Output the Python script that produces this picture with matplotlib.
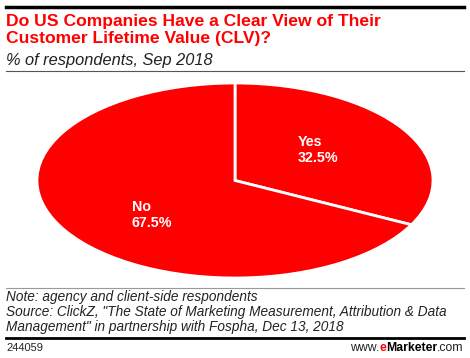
import matplotlib
matplotlib.use("Agg")
import matplotlib.pyplot as plt
from matplotlib.lines import Line2D

# data
labels = ["Yes", "No"]
values = [32.5, 67.5]

title = "Do US Companies Have a Clear View of Their\nCustomer Lifetime Value (CLV)?"
subtitle = "% of respondents, Sep 2018"
note = ("Note: agency and client-side respondents\n"
        "Source: ClickZ, \"The State of Marketing Measurement, Attribution & Data\n"
        "Management\" in partnership with Fospha, Dec 13, 2018")
chart_id = "244059"

RED = "#ff0000"
W, H = 470, 358

fig = plt.figure(figsize=(W / 100, H / 100), dpi=100)
plt.rcParams['font.family'] = ['Liberation Sans', 'DejaVu Sans']


def fx(px):
    return px / W


def fy(py):
    return 1 - py / H


# pie axes stretched to the ellipse box
ax = fig.add_axes([fx(37), fy(278), fx(396), 195 / H])
wedges, _ = ax.pie(values, startangle=90, counterclock=False, colors=[RED, RED],
                   wedgeprops=dict(edgecolor="white", linewidth=2))
ax.set_aspect("auto")
ax.set_xlim(-1, 1)
ax.set_ylim(-1, 1)
for w in wedges:
    w.set_clip_on(False)

# slice labels
fig.text(fx(298), fy(150), f"{labels[0]}\n{values[0]}%", color="white", fontsize=10.3,
         fontweight="bold", ha="left", va="center", linespacing=1.15)
fig.text(fx(132), fy(215), f"{labels[1]}\n{values[1]}%", color="white", fontsize=10.3,
         fontweight="bold", ha="left", va="center", linespacing=1.15)

# header
fig.add_artist(Line2D([fx(6), fx(464)], [fy(7), fy(7)], color="black", lw=2.5))
fig.text(fx(6), fy(30), title, color=RED, fontsize=12.6, fontweight="bold",
         ha="left", va="center", linespacing=1.2)
fig.text(fx(6), fy(60), subtitle, fontsize=11.8, style="italic", ha="left", va="center",
         color="#222222")
fig.add_artist(Line2D([fx(6), fx(464)], [fy(71), fy(71)], color="#555555", lw=0.8))

# footer
fig.add_artist(Line2D([fx(6), fx(464)], [fy(288), fy(288)], color="#999999", lw=0.8))
fig.text(fx(6), fy(312), note, fontsize=9.8, style="italic", ha="left", va="center",
         color="#222222", linespacing=1.12)
fig.add_artist(Line2D([fx(6), fx(464)], [fy(338), fy(338)], color="black", lw=2))
fig.text(fx(6), fy(348), chart_id, fontsize=8, ha="left", va="center", color="#222222")

# www.eMarketer.com with coloured "e"
t1 = fig.text(fx(464), fy(348), ".com", fontsize=8.8, ha="right", va="center", color="#222222")
fig.canvas.draw()
r = fig.canvas.get_renderer()
x = t1.get_window_extent(r).x0 / W
parts = [("Marketer", "black", "bold"), ("e", RED, "bold"), ("www.", "#222222", "normal")]
for s, c, wgt in parts:
    t = fig.text(x, fy(348), s, fontsize=8.8, ha="right", va="center", color=c, fontweight=wgt)
    x = t.get_window_extent(r).x0 / W

fig.savefig("out.png", dpi=100)
